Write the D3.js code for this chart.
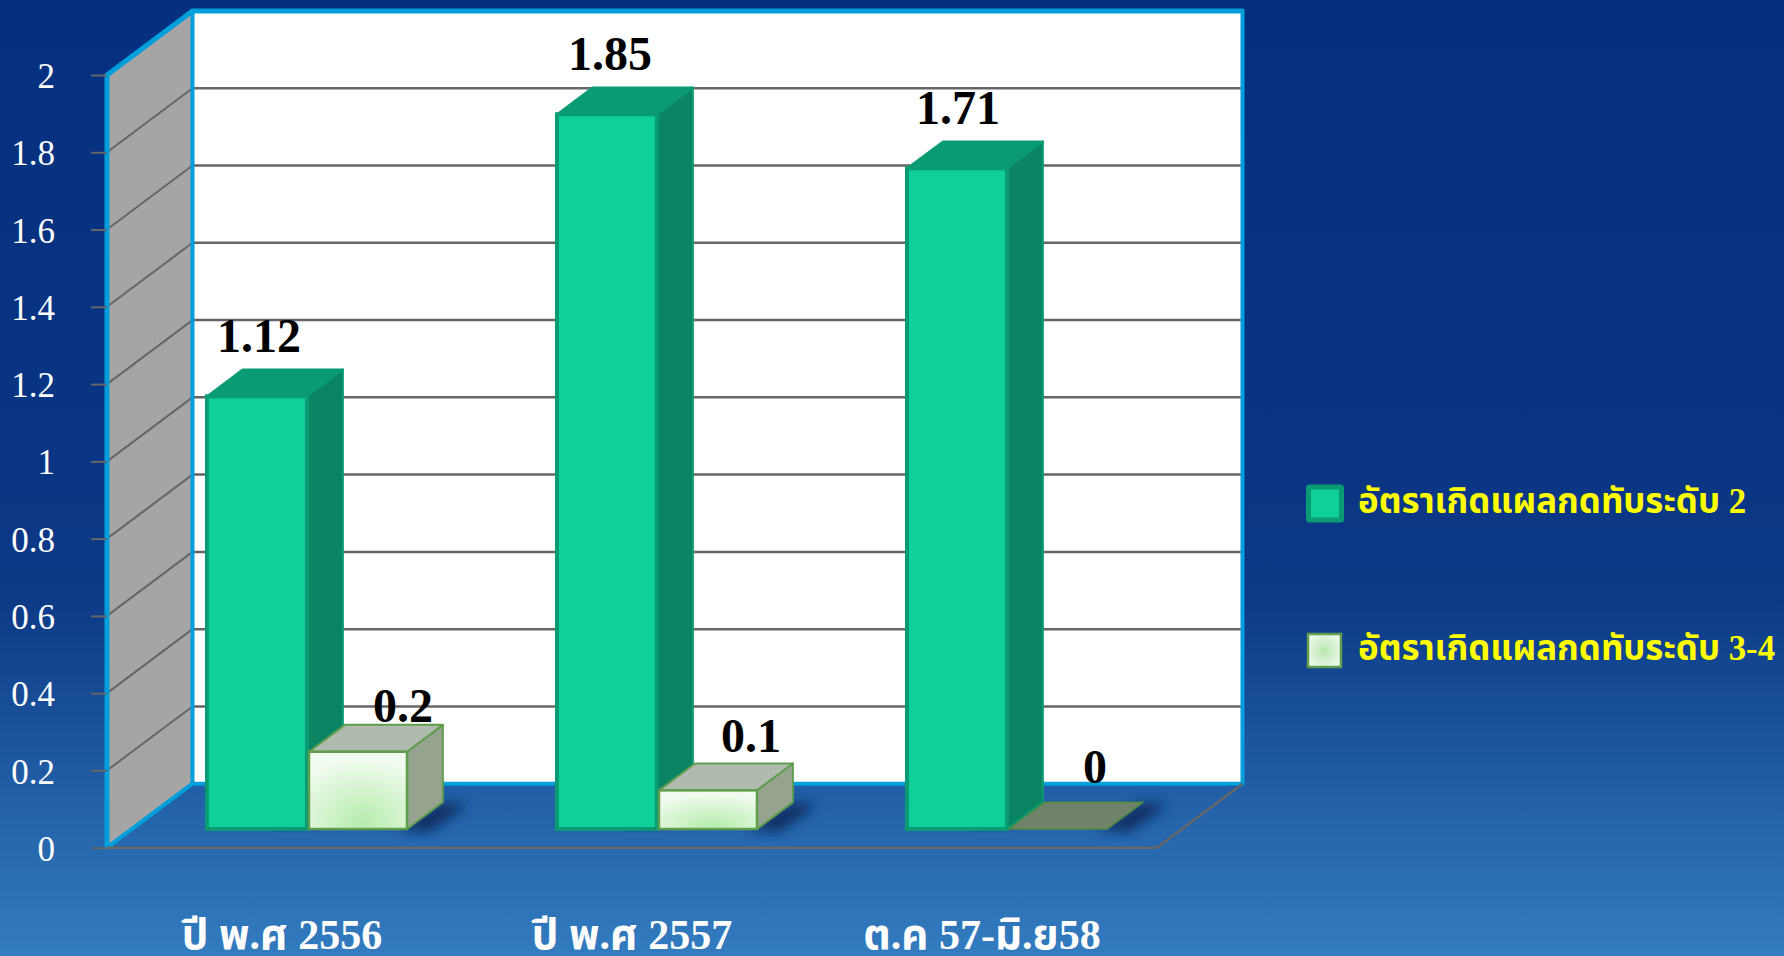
<!DOCTYPE html>
<html><head><meta charset="utf-8">
<style>html,body{margin:0;padding:0;overflow:hidden;background:#06327f}svg{display:block}
text{font-family:"Liberation Serif","Times New Roman","Noto Sans Thai","DejaVu Serif",serif}</style>
<script src="https://cdn.jsdelivr.net/npm/d3@7/dist/d3.min.js"></script></head><body>
<script>
const categories=["ปี พ.ศ 2556","ปี พ.ศ 2557","ต.ค 57-มิ.ย58"];
const seriesNames=["อัตราเกิดแผลกดทับระดับ 2","อัตราเกิดแผลกดทับระดับ 3-4"];
const stage2=[1.12,1.85,1.71];
const stage34=[0.2,0.1,0];
const yTicks=[0,0.2,0.4,0.6,0.8,1,1.2,1.4,1.6,1.8,2];

const W=1784,H=956;
const front={x0:107,x1:1157,y0:847.7,y1:75};
const depth={dx:85.5,dy:-64};
const barDepth={start:0.292,size:0.42};
const x0=d3.scaleBand().domain(categories).range([front.x0,front.x1]);
const x1=d3.scaleBand().domain([0,1]).range([0,x0.bandwidth()]).paddingInner(0).paddingOuter(0.75);
const y=d3.scaleLinear().domain([0,2]).range([front.y0,front.y1]);
const P=(x,yy,d=0)=>[x+depth.dx*d,yy+depth.dy*d];
const pts=a=>a.map(p=>p.join(",")).join(" ");

const svg=d3.select("body").append("svg").attr("width",W).attr("height",H);
const defs=svg.append("defs");
const bg=defs.append("linearGradient").attr("id","bg").attr("x1",0).attr("x2",0).attr("y1",0).attr("y2",1);
[[0,"#05307f"],[0.48,"#0a3584"],[0.628,"#0c3a87"],[0.732,"#174c96"],[0.837,"#2260a8"],[0.941,"#2c72b6"],[1,"#337cbf"]].forEach(s=>bg.append("stop").attr("offset",s[0]).attr("stop-color",s[1]));
const rg=defs.append("radialGradient").attr("id","soft").attr("cx",0.55).attr("cy",0.9).attr("r",0.8);
rg.append("stop").attr("offset",0).attr("stop-color","#b7ecae");
rg.append("stop").attr("offset",1).attr("stop-color","#f0fbee");
const rg2=defs.append("radialGradient").attr("id","softL").attr("cx",0.5).attr("cy",0.5).attr("r",0.65);
rg2.append("stop").attr("offset",0).attr("stop-color","#b9e6b0");
rg2.append("stop").attr("offset",1).attr("stop-color","#f4fcf2");
defs.append("filter").attr("id","blur").attr("x","-30%").attr("y","-60%").attr("width","160%").attr("height","220%").append("feGaussianBlur").attr("stdDeviation",6);

svg.append("rect").attr("width",W).attr("height",H).attr("fill","url(#bg)");

const blue="#009fdb",grey="#666666";
// back wall and side wall
const bl=P(front.x0,y(0),1),br=P(front.x1,y(0),1),tl=P(front.x0,y(2),1),tr=P(front.x1,y(2),1);
svg.append("polygon").attr("points",pts([tl,tr,br,bl])).attr("fill","#fff");
const fb=P(front.x0,y(0)),ft=P(front.x0,y(2));
svg.append("polygon").attr("points",pts([ft,tl,bl,fb])).attr("fill","#a5a5a5");
// gridlines
yTicks.filter(t=>t>0&&t<2).forEach(t=>{
  svg.append("line").attr("x1",P(front.x0,y(t),1)[0]).attr("x2",P(front.x1,y(t),1)[0]).attr("y1",P(0,y(t),1)[1]).attr("y2",P(0,y(t),1)[1]).attr("stroke",grey).attr("stroke-width",2.5);
  svg.append("line").attr("x1",P(front.x0,y(t))[0]).attr("y1",y(t)).attr("x2",P(front.x0,y(t),1)[0]).attr("y2",P(0,y(t),1)[1]).attr("stroke",grey).attr("stroke-width",2);
});
// blue frame
svg.append("polyline").attr("points",pts([bl,tl,tr,br,bl])).attr("fill","none").attr("stroke",blue).attr("stroke-width",4);
svg.append("polyline").attr("points",pts([fb,ft,tl,tr])).attr("fill","none").attr("stroke",blue).attr("stroke-width",5);
svg.append("line").attr("x1",fb[0]).attr("y1",fb[1]).attr("x2",bl[0]).attr("y2",bl[1]).attr("stroke",blue).attr("stroke-width",4);
// floor edges
svg.append("polyline").attr("points",pts([[front.x0,y(0)],[front.x1,y(0)],br])).attr("fill","none").attr("stroke",grey).attr("stroke-width",2.5);
// y axis ticks
const axis=d3.axisLeft(y).tickValues(yTicks).tickFormat(d3.format("~g")).tickSize(16);
const ag=svg.append("g").attr("transform",`translate(${front.x0},0)`).call(axis);
ag.select(".domain").remove();
ag.selectAll("line").attr("stroke",grey).attr("stroke-width",2);
ag.selectAll("text").attr("fill","#fff").attr("font-size",35).attr("x",-52).attr("dy","0.36em").attr("font-family","Liberation Serif");

const d0=barDepth.start,d1=d0+barDepth.size;
const sideGap=2;
function shadow(g,x,w,strong){
  const B=P(x+w,y(0),d0),E=P(x+w,y(0),d1);
  if(strong) g.append("polygon").attr("points",pts([[B[0]-10,B[1]],E,[E[0]+24,E[1]+3],[B[0]+22,B[1]+3]])).attr("fill","#0b2a5c").attr("opacity",0.9).attr("filter","url(#blur)");
  else g.append("polygon").attr("points",pts([[B[0]-30,B[1]],B,[B[0]+10,B[1]+2],[B[0]-30,B[1]+2]])).attr("fill","#0b2a5c").attr("opacity",0.55).attr("filter","url(#blur)");
}
function bar(g,x,w,v,fr,style){
  const Y=y(v);
  const A=P(x,y(0),d0),B=P(x+w,y(0),d0),C=P(x+w,Y,d0),D=P(x,Y,d0);
  const E=P(x+w,y(0),d1),F=P(x+w,Y,d1),G=P(x,Y,d1);
  g.append("polygon").attr("points",pts([B,E,F,C])).attr("fill",style.side).attr("stroke",style.stroke).attr("stroke-width",style.sw).attr("stroke-linejoin","round");
  g.append("polygon").attr("points",pts([D,C,F,G])).attr("fill",style.top).attr("stroke",style.stroke).attr("stroke-width",style.sw).attr("stroke-linejoin","round");
  if(v>0) g.append("rect").attr("x",A[0]).attr("y",C[1]).attr("width",w).attr("height",A[1]-C[1]).attr("fill",fr).attr("stroke",style.stroke).attr("stroke-width",style.fsw);
}
const s2={side:"#0b8463",top:"#0a9b74",stroke:"#0a9b74",sw:2,fsw:4};
const s34={side:"#96a38f",top:"#b0baae",stroke:"#5f9e4c",sw:2,fsw:2.5};
const s0={side:"#70836a",top:"#70836a",stroke:"#4f8d42",sw:1.5,fsw:0};
const shadows=svg.append("g"),bars=svg.append("g");
const labelNudgeA=[[52,-44],[53,-44],[51,-44]];
const labelNudgeB=[[96,-30],[94,-38],[88,-46]];
categories.forEach((c,i)=>{
  const bx=x0(c),w=x1.bandwidth();
  shadow(shadows,bx+x1(0),w,false);
  shadow(shadows,bx+x1(1),w,true);
  bar(bars,bx+x1(0),w,stage2[i],"#10d09a",s2);
  bar(bars,bx+x1(1)+sideGap,w-sideGap,stage34[i],"url(#soft)",stage34[i]>0?s34:s0);
});
categories.forEach((c,i)=>{
  const bx=x0(c);
  const a=P(bx+x1(0),y(stage2[i]),d0),b=P(bx+x1(1),y(stage34[i]),d0);
  const L=(p,n,v)=>svg.append("text").attr("x",p[0]+n[0]).attr("y",p[1]+n[1]).attr("text-anchor","middle").attr("font-size",48).attr("font-weight",700).attr("fill","#000").text(v);
  L(a,labelNudgeA[i],stage2[i]);L(b,labelNudgeB[i],stage34[i]);
  svg.append("text").attr("x",bx+x0.bandwidth()/2).attr("y",949).attr("text-anchor","middle").attr("font-size",42).attr("font-weight",700).attr("fill","#fff").text(c);
});
// legend
const ly=d3.scalePoint().domain(seriesNames).range([504,650]);
seriesNames.forEach((n,i)=>{
  const yy=ly(n);
  if(i==0){svg.append("rect").attr("x",1308.5).attr("y",yy-17).attr("width",33).attr("height",33).attr("rx",1).attr("fill","#10d09a").attr("stroke","#0a9b74").attr("stroke-width",5);}
  else{svg.append("rect").attr("x",1308).attr("y",yy-16).attr("width",33).attr("height",33).attr("fill","url(#softL)").attr("stroke","#5f9e4c").attr("stroke-width",2.5);}
  svg.append("text").attr("x",1358).attr("y",yy+(i==0?9:10)).attr("font-size",34.8).attr("font-weight",700).attr("fill","#ffff00").text(n);
});
</script></body></html>
